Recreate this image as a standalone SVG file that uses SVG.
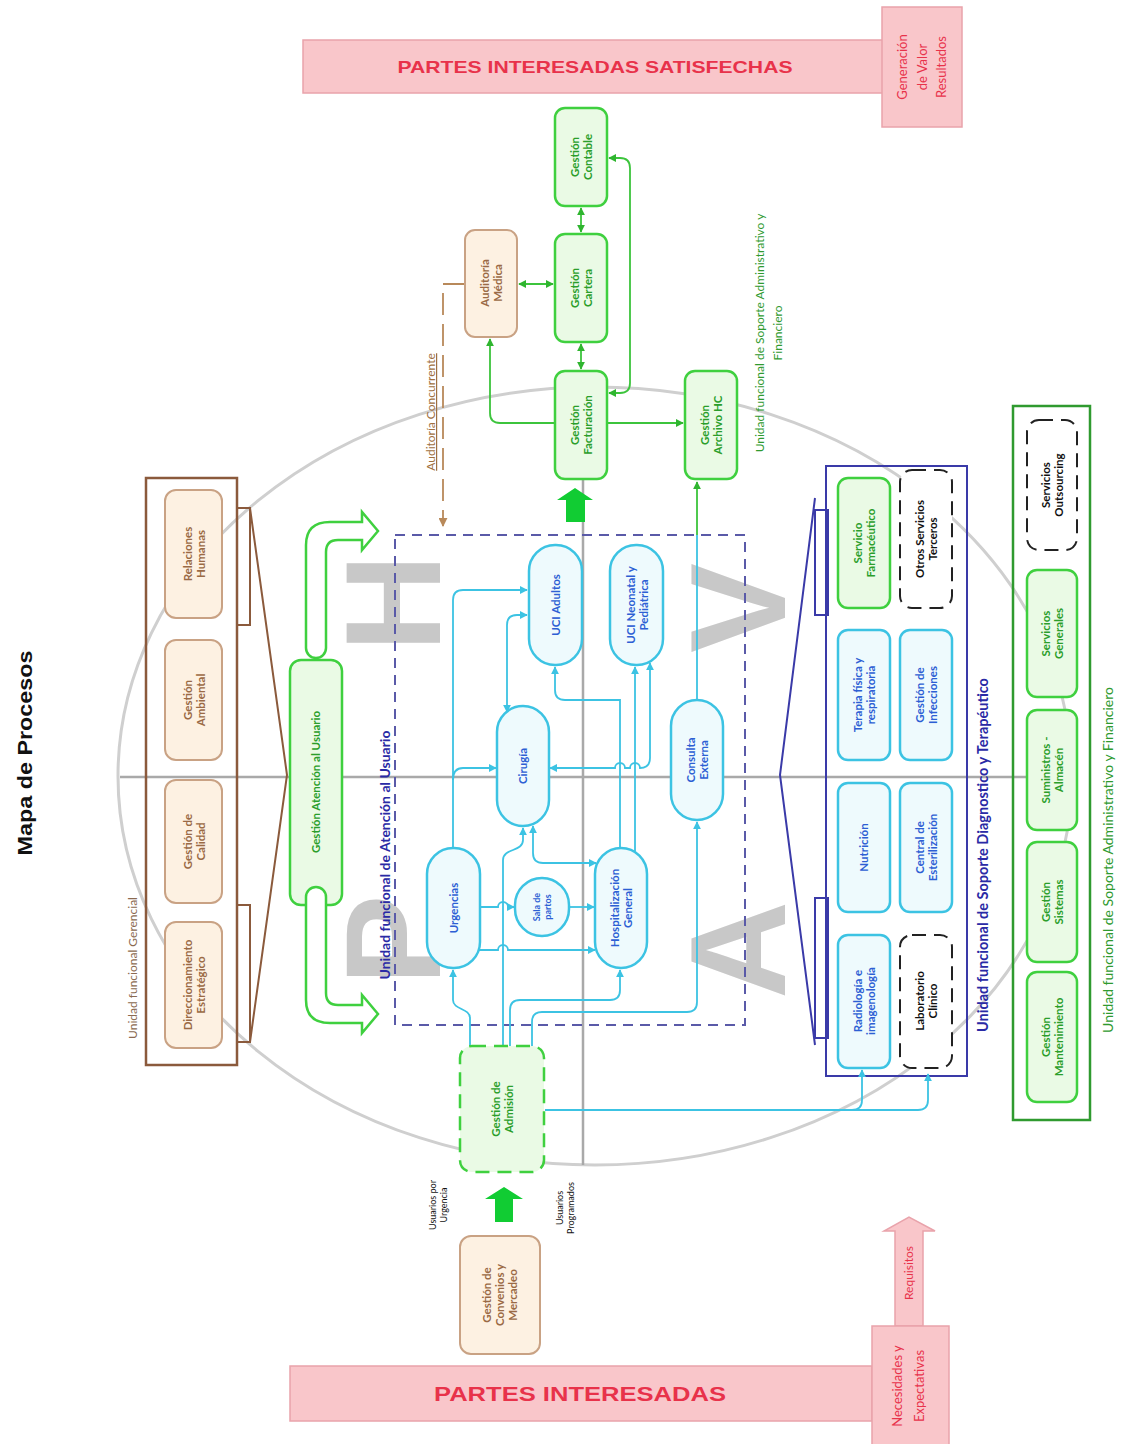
<svg xmlns="http://www.w3.org/2000/svg" width="1125" height="1444" viewBox="0 0 1125 1444">
<style>
text{font-family:Lato,"Liberation Sans",sans-serif;text-anchor:middle}
.nt{font-size:11.5px;font-weight:bold}
.gn{fill:#eafae5;stroke:#3fd03f;stroke-width:2.5}
.tn{fill:#fdf1e2;stroke:#c9a284;stroke-width:2}
.cn{fill:#eefafd;stroke:#3cc3e3;stroke-width:2.5}
.dn{fill:#fff;stroke:#222;stroke-width:2;stroke-dasharray:14 8}
.gt{fill:#2b9e2b}
.tt{fill:#9a6a45}
.ct{fill:#2d5fd4}
.dt{fill:#111}
.cc{fill:none;stroke:#3cc3e3;stroke-width:1.8}
.gc{fill:none;stroke:#3cc43c;stroke-width:1.8}
.red{fill:#e8324a}
.banner{fill:#f9c6ca;stroke:#e9a3ab;stroke-width:1.5}
.big{font-family:"Liberation Sans",sans-serif;font-weight:bold;font-size:135px;fill:#c8c8c8}
</style>
<defs>
<marker id="ac" viewBox="0 0 10 10" refX="9" refY="5" markerWidth="8" markerHeight="8" markerUnits="userSpaceOnUse" orient="auto-start-reverse"><path d="M0,0 L10,5 L0,10 Z" fill="#3cc3e3"/></marker>
<marker id="ag" viewBox="0 0 10 10" refX="9" refY="5" markerWidth="8" markerHeight="8" markerUnits="userSpaceOnUse" orient="auto-start-reverse"><path d="M0,0 L10,5 L0,10 Z" fill="#2fb52f"/></marker>
<marker id="ab" viewBox="0 0 10 10" refX="9" refY="5" markerWidth="9" markerHeight="9" markerUnits="userSpaceOnUse" orient="auto-start-reverse"><path d="M0,0 L10,5 L0,10 Z" fill="#b8895a"/></marker>
</defs>
<rect width="1125" height="1444" fill="#fff"/>

<g id="background">
<ellipse cx="595" cy="776" rx="477" ry="389" fill="none" stroke="#cfcfcf" stroke-width="3"/>
<line x1="583" y1="387" x2="583" y2="1165" stroke="#a9a9a9" stroke-width="2.5"/>
<line x1="120" y1="777" x2="1070" y2="777" stroke="#a9a9a9" stroke-width="2.5"/>
<text class="big" transform="translate(440,940) rotate(-90)">P</text>
<text class="big" transform="translate(440,603) rotate(-90)">H</text>
<text class="big" transform="translate(785,608) rotate(-90)">V</text>
<text class="big" transform="translate(785,950) rotate(-90)">A</text>
</g>

<text transform="translate(32,753) rotate(-90)" style="font-family:'Liberation Sans',sans-serif;font-weight:bold;font-size:21px" textLength="205" lengthAdjust="spacingAndGlyphs" fill="#111">Mapa de Procesos</text>

<g id="partes-satisfechas">
<rect class="banner" x="303" y="40" width="582" height="53"/>
<text class="red" x="595" y="73" style="font-family:'Liberation Sans',sans-serif;font-weight:bold;font-size:17px" textLength="395" lengthAdjust="spacingAndGlyphs">PARTES INTERESADAS SATISFECHAS</text>
</g>
<g id="generacion-valor">
<rect class="banner" x="882" y="7" width="80" height="120"/>
<text class="red" transform="translate(922,67) rotate(-90)" style="font-size:13px"><tspan x="0" y="-15">Generación</tspan><tspan x="0" y="4.5">de Valor</tspan><tspan x="0" y="24">Resultados</tspan></text>
</g>
<g id="partes-interesadas">
<rect class="banner" x="290" y="1366" width="582" height="55"/>
<text class="red" x="580" y="1401" style="font-family:'Liberation Sans',sans-serif;font-weight:bold;font-size:20px" textLength="292" lengthAdjust="spacingAndGlyphs">PARTES INTERESADAS</text>
</g>
<g id="requisitos">
<path class="banner" d="M895,1326 V1231 H884 L909,1217 L935,1231 H923 V1326 Z"/>
<text class="red" transform="translate(913,1273) rotate(-90)" style="font-size:12px">Requisitos</text>
</g>
<g id="necesidades">
<rect class="banner" x="872" y="1326" width="77" height="122"/>
<text class="red" transform="translate(908,1386) rotate(-90)" style="font-size:13px"><tspan x="0" y="-6">Necesidades y</tspan><tspan x="0" y="16">Expectativas</tspan></text>
</g>

<g id="unidad-gerencial">
<rect x="146" y="478" width="91" height="587" fill="none" stroke="#8b5a3c" stroke-width="2.5"/>
<text transform="translate(137,968) rotate(-90)" style="font-size:12px" fill="#8a6a50">Unidad funcional Gerencial</text>
<path d="M250,508 L287,775 L250,1042" fill="none" stroke="#8b5a3c" stroke-width="2"/>
<rect x="237" y="508" width="13" height="117" fill="none" stroke="#8b5a3c" stroke-width="2"/>
<rect x="237" y="905" width="13" height="137" fill="none" stroke="#8b5a3c" stroke-width="2"/>
</g>
<g id="direccionamiento"><rect class="tn" x="165" y="922" width="57" height="126" rx="11"/><text class="nt tt" transform="translate(193.5,985) rotate(-90)"><tspan x="0" y="-2">Direccionamiento</tspan><tspan x="0" y="11">Estratégico</tspan></text></g>
<g id="calidad"><rect class="tn" x="165" y="780" width="57" height="123" rx="11"/><text class="nt tt" transform="translate(193.5,841.5) rotate(-90)"><tspan x="0" y="-2">Gestión de</tspan><tspan x="0" y="11">Calidad</tspan></text></g>
<g id="ambiental"><rect class="tn" x="165" y="640" width="57" height="120" rx="11"/><text class="nt tt" transform="translate(193.5,700) rotate(-90)"><tspan x="0" y="-2">Gestión</tspan><tspan x="0" y="11">Ambiental</tspan></text></g>
<g id="relaciones"><rect class="tn" x="165" y="490" width="57" height="128" rx="11"/><text class="nt tt" transform="translate(193.5,554) rotate(-90)"><tspan x="0" y="-2">Relaciones</tspan><tspan x="0" y="11">Humanas</tspan></text></g>

<g id="atencion-usuario"><rect class="gn" x="290" y="660" width="52" height="245" rx="11"/><text class="nt gt" transform="translate(316,782) rotate(-90)" y="4">Gestión Atención al Usuario</text></g>
<g id="flechas-atencion">
<path d="M306,648 V545 Q306,522 330,522 H362 V512 L378,531 L362,550 V540 H338 Q326,540 326,552 V648 A10,10 0 0 1 306,648 Z" fill="#fff" stroke="#3fd03f" stroke-width="2.5"/>
<path d="M306,897 V1000 Q306,1023 330,1023 H362 V1033 L378,1014 L362,995 V1005 H338 Q326,1005 326,993 V897 A10,10 0 0 0 306,897 Z" fill="#fff" stroke="#3fd03f" stroke-width="2.5"/>
</g>

<g id="unidad-atencion">
<rect x="395" y="535" width="350" height="490" fill="none" stroke="#5a5aa8" stroke-width="2" stroke-dasharray="10 7"/>
<text transform="translate(390,855) rotate(-90)" style="font-size:14px;font-weight:bold" fill="#2a2aa5">Unidad funcional de Atención al Usuario</text>
</g>

<g id="unidad-diagnostico">
<path d="M815,498 L780,775 L815,1045" fill="none" stroke="#3a3aa8" stroke-width="2"/>
<rect x="815" y="510" width="13" height="105" fill="#fff" stroke="#3a3aa8" stroke-width="2"/>
<rect x="815" y="898" width="13" height="140" fill="#fff" stroke="#3a3aa8" stroke-width="2"/>
<rect x="826" y="466" width="141" height="610" fill="none" stroke="#3a3aa8" stroke-width="2"/>
<text transform="translate(988,855) rotate(-90)" style="font-size:14.5px;font-weight:bold" fill="#2a2aa5">Unidad funcional de Soporte Diagnostico y Terapéutico</text>
</g>

<g id="unidad-administrativa">
<rect x="1013" y="406" width="77" height="714" fill="none" stroke="#2f9a2f" stroke-width="2.5"/>
<text transform="translate(1113,860) rotate(-90)" style="font-size:14px" fill="#2f9a2f">Unidad funcional de Soporte Administrativo y Financiero</text>
</g>
<text transform="translate(769,333) rotate(-90)" style="font-size:12px" fill="#2f9a2f"><tspan x="0" y="-5">Unidad funcional de Soporte Administrativo y</tspan><tspan x="0" y="13">Financiero</tspan></text>

<g id="connectors">
<path class="cc" d="M453,848 V600 Q453,590 463,590 H527" marker-end="url(#ac)"/>
<path class="cc" d="M453,780 Q453,768 463,768 H496" marker-end="url(#ac)"/>
<path class="cc" d="M527,615 H517 Q507,615 507,625 V712" marker-start="url(#ac)" marker-end="url(#ac)"/>
<path class="cc" d="M620,849 V700 H565 Q555,700 555,690 V667" marker-end="url(#ac)"/>
<path class="cc" d="M635,851 V667" marker-end="url(#ac)"/>
<path class="cc" d="M650,663 V758 Q650,768 640,768 a5,5 0 0 0 -10,0 H625 a5,5 0 0 0 -10,0 H550" marker-start="url(#ac)" marker-end="url(#ac)"/>
<path class="cc" d="M503,1046 V860 C503,848 523,852 523,840 V828" marker-end="url(#ac)"/>
<path class="cc" d="M533,826 V853 Q533,863 543,863 H596" marker-start="url(#ac)" marker-end="url(#ac)"/>
<path class="cc" d="M480,907 H498 a5,5 0 0 1 10,0 H514" marker-end="url(#ac)"/>
<path class="cc" d="M569,907 H594" marker-end="url(#ac)"/>
<path class="cc" d="M478,950 H498 a5,5 0 0 1 10,0 H595" marker-end="url(#ac)"/>
<path class="cc" d="M470,1046 V1018 C470,1008 453,1010 453,1000 V970" marker-end="url(#ac)"/>
<path class="cc" d="M510,1046 V1010 Q510,1000 520,1000 H610 Q620,1000 620,990 V970" marker-end="url(#ac)"/>
<path class="cc" d="M532,1046 V1022 Q532,1012 542,1012 H687 Q697,1012 697,1002 V822" marker-end="url(#ac)"/>
<path class="cc" d="M697,700 V535"/>
<path class="gc" d="M697,535 V482" marker-end="url(#ag)"/>
<path class="cc" d="M545,1110 H852 Q862,1110 862,1100 V1070" marker-end="url(#ac)"/>
<path class="cc" d="M852,1110 H918 Q928,1110 928,1100 V1074" marker-end="url(#ac)"/>
<path class="gc" d="M581,208 V232" marker-start="url(#ag)" marker-end="url(#ag)"/>
<path class="gc" d="M581,344 V369" marker-start="url(#ag)" marker-end="url(#ag)"/>
<path class="gc" d="M519,284 H553" marker-start="url(#ag)" marker-end="url(#ag)"/>
<path class="gc" d="M555,423 H500 Q490,423 490,413 V339" marker-end="url(#ag)"/>
<path class="gc" d="M607,423 H683" marker-end="url(#ag)"/>
<path class="gc" d="M609,158 H620 Q630,158 630,168 V383 Q630,393 620,393 H609" marker-start="url(#ag)" marker-end="url(#ag)"/>
<path d="M465,284 H443 V526" fill="none" stroke="#b8895a" stroke-width="1.8" stroke-dasharray="22 9" marker-end="url(#ab)"/>
<path d="M566,522 V500 H557 L575,488 L593,500 H585 V522 Z" fill="#11cc33"/>
<path d="M495,1222 V1199 H485 L504,1187 L523,1199 H513 V1222 Z" fill="#11cc33"/>
</g>
<text transform="translate(435,412) rotate(-90)" style="font-size:12px;text-decoration:underline" fill="#a07040">Auditoría Concurrente</text>

<g id="contable"><rect class="gn" x="555" y="108" width="52" height="98" rx="10"/><text class="nt gt" transform="translate(581,157) rotate(-90)"><tspan x="0" y="-2">Gestión</tspan><tspan x="0" y="11">Contable</tspan></text></g>
<g id="cartera"><rect class="gn" x="555" y="234" width="52" height="108" rx="10"/><text class="nt gt" transform="translate(581,288) rotate(-90)"><tspan x="0" y="-2">Gestión</tspan><tspan x="0" y="11">Cartera</tspan></text></g>
<g id="facturacion"><rect class="gn" x="555" y="371" width="52" height="108" rx="10"/><text class="nt gt" transform="translate(581,425) rotate(-90)"><tspan x="0" y="-2">Gestión</tspan><tspan x="0" y="11">Facturación</tspan></text></g>
<g id="auditoria"><rect class="tn" x="465" y="230" width="52" height="107" rx="10"/><text class="nt tt" transform="translate(491,283) rotate(-90)"><tspan x="0" y="-2">Auditoría</tspan><tspan x="0" y="11">Médica</tspan></text></g>
<g id="archivo"><rect class="gn" x="685" y="371" width="52" height="108" rx="10"/><text class="nt gt" transform="translate(711,425) rotate(-90)"><tspan x="0" y="-2">Gestión</tspan><tspan x="0" y="11">Archivo HC</tspan></text></g>

<g id="uci-adultos"><rect class="cn" x="529" y="545" width="53" height="120" rx="26"/><text class="nt ct" transform="translate(555.5,605) rotate(-90)" y="4">UCI Adultos</text></g>
<g id="uci-neonatal"><rect class="cn" x="610" y="545" width="53" height="120" rx="26"/><text class="nt ct" transform="translate(636.5,605) rotate(-90)"><tspan x="0" y="-2">UCI Neonatal y</tspan><tspan x="0" y="11">Pediátrica</tspan></text></g>
<g id="cirugia"><rect class="cn" x="497" y="706" width="52" height="120" rx="26"/><text class="nt ct" transform="translate(523,766) rotate(-90)" y="4">Cirugía</text></g>
<g id="consulta"><rect class="cn" x="671" y="700" width="52" height="120" rx="26"/><text class="nt ct" transform="translate(697,760) rotate(-90)"><tspan x="0" y="-2">Consulta</tspan><tspan x="0" y="11">Externa</tspan></text></g>
<g id="urgencias"><rect class="cn" x="427" y="848" width="53" height="120" rx="26"/><text class="nt ct" transform="translate(453.5,908) rotate(-90)" y="4">Urgencias</text></g>
<g id="sala-partos"><rect class="cn" x="515" y="878" width="54" height="58" rx="27"/><text class="ct" transform="translate(542,907) rotate(-90)" style="font-size:9px;font-weight:bold"><tspan x="0" y="-2">Sala de</tspan><tspan x="0" y="9">partos</tspan></text></g>
<g id="hospitalizacion"><rect class="cn" x="595" y="848" width="52" height="120" rx="26"/><text class="nt ct" transform="translate(621,908) rotate(-90)"><tspan x="0" y="-2">Hospitalización</tspan><tspan x="0" y="11">General</tspan></text></g>

<g id="admision"><rect x="460" y="1046" width="84" height="126" rx="12" fill="#eafae5" stroke="#3fd03f" stroke-width="2.5" stroke-dasharray="14 8"/><text class="nt gt" transform="translate(502,1109) rotate(-90)"><tspan x="0" y="-2">Gestión de</tspan><tspan x="0" y="11">Admisión</tspan></text></g>
<g id="convenios"><rect class="tn" x="460" y="1236" width="80" height="118" rx="11"/><text class="nt tt" transform="translate(500,1295) rotate(-90)"><tspan x="0" y="-9">Gestión de</tspan><tspan x="0" y="4">Convenios y</tspan><tspan x="0" y="17">Mercadeo</tspan></text></g>
<text transform="translate(437,1205) rotate(-90)" style="font-size:9px" fill="#111"><tspan x="0" y="-1">Usuarios por</tspan><tspan x="0" y="10">Urgencia</tspan></text>
<text transform="translate(564,1208) rotate(-90)" style="font-size:9px" fill="#111"><tspan x="0" y="-1">Usuarios</tspan><tspan x="0" y="10">Programados</tspan></text>

<g id="radiologia"><rect class="cn" x="838" y="935" width="52" height="133" rx="10"/><text class="nt ct" transform="translate(864,1001) rotate(-90)"><tspan x="0" y="-2">Radiología e</tspan><tspan x="0" y="11">imagenología</tspan></text></g>
<g id="nutricion"><rect class="cn" x="838" y="783" width="52" height="129" rx="10"/><text class="nt ct" transform="translate(864,847.5) rotate(-90)" y="4">Nutrición</text></g>
<g id="terapia"><rect class="cn" x="838" y="630" width="52" height="130" rx="10"/><text class="nt ct" transform="translate(864,695) rotate(-90)"><tspan x="0" y="-2">Terapia física y</tspan><tspan x="0" y="11">respiratoria</tspan></text></g>
<g id="farmaceutico"><rect class="gn" x="838" y="478" width="52" height="130" rx="10"/><text class="nt gt" transform="translate(864,543) rotate(-90)"><tspan x="0" y="-2">Servicio</tspan><tspan x="0" y="11">Farmacéutico</tspan></text></g>
<g id="laboratorio"><rect class="dn" x="900" y="935" width="52" height="133" rx="12"/><text class="nt dt" transform="translate(926,1001) rotate(-90)"><tspan x="0" y="-2">Laboratorio</tspan><tspan x="0" y="11">Clínico</tspan></text></g>
<g id="esterilizacion"><rect class="cn" x="900" y="783" width="52" height="129" rx="10"/><text class="nt ct" transform="translate(926,847.5) rotate(-90)"><tspan x="0" y="-2">Central de</tspan><tspan x="0" y="11">Esterilización</tspan></text></g>
<g id="infecciones"><rect class="cn" x="900" y="630" width="52" height="130" rx="10"/><text class="nt ct" transform="translate(926,695) rotate(-90)"><tspan x="0" y="-2">Gestión de</tspan><tspan x="0" y="11">Infecciones</tspan></text></g>
<g id="otros-servicios"><rect class="dn" x="900" y="470" width="52" height="138" rx="12"/><text class="nt dt" transform="translate(926,539) rotate(-90)"><tspan x="0" y="-2">Otros Servicios</tspan><tspan x="0" y="11">Terceros</tspan></text></g>

<g id="mantenimiento"><rect class="gn" x="1027" y="972" width="50" height="130" rx="10"/><text class="nt gt" transform="translate(1052,1037) rotate(-90)"><tspan x="0" y="-2">Gestión</tspan><tspan x="0" y="11">Mantenimiento</tspan></text></g>
<g id="sistemas"><rect class="gn" x="1027" y="842" width="50" height="120" rx="10"/><text class="nt gt" transform="translate(1052,902) rotate(-90)"><tspan x="0" y="-2">Gestión</tspan><tspan x="0" y="11">Sistemas</tspan></text></g>
<g id="suministros"><rect class="gn" x="1027" y="710" width="50" height="120" rx="10"/><text class="nt gt" transform="translate(1052,770) rotate(-90)"><tspan x="0" y="-2">Suministros -</tspan><tspan x="0" y="11">Almacén</tspan></text></g>
<g id="generales"><rect class="gn" x="1027" y="570" width="50" height="127" rx="10"/><text class="nt gt" transform="translate(1052,633.5) rotate(-90)"><tspan x="0" y="-2">Servicios</tspan><tspan x="0" y="11">Generales</tspan></text></g>
<g id="outsourcing"><rect class="dn" x="1027" y="420" width="50" height="130" rx="12"/><text class="nt dt" transform="translate(1052,485) rotate(-90)"><tspan x="0" y="-2">Servicios</tspan><tspan x="0" y="11">Outsourcing</tspan></text></g>
</svg>
